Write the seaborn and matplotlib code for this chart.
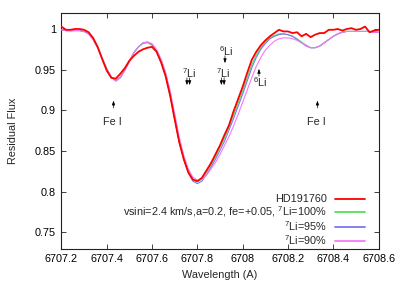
import matplotlib
matplotlib.use("Agg")
import matplotlib.pyplot as plt
import seaborn as sns
from matplotlib.ticker import FuncFormatter

# wavelength grid (A)
wavelength = [
    6707.20, 6707.22, 6707.24, 6707.26, 6707.28, 6707.30, 6707.32, 6707.34, 6707.36, 6707.38,
    6707.40, 6707.42, 6707.44, 6707.46, 6707.48, 6707.50, 6707.52, 6707.54, 6707.56, 6707.58,
    6707.60, 6707.62, 6707.64, 6707.66, 6707.68, 6707.70, 6707.72, 6707.74, 6707.76, 6707.78,
    6707.80, 6707.82, 6707.84, 6707.86, 6707.88, 6707.90, 6707.92, 6707.94, 6707.96, 6707.98,
    6708.00, 6708.02, 6708.04, 6708.06, 6708.08, 6708.10, 6708.12, 6708.14, 6708.16, 6708.18,
    6708.20, 6708.22, 6708.24, 6708.26, 6708.28, 6708.30, 6708.32, 6708.34, 6708.36, 6708.38,
    6708.40, 6708.42, 6708.44, 6708.46, 6708.48, 6708.50, 6708.52, 6708.54, 6708.56, 6708.58,
    6708.60,
]

# observed spectrum
flux_obs = [
    1.003, 0.999, 0.999, 1.000, 1.000, 0.999, 0.996, 0.989, 0.978, 0.963,
    0.949, 0.940, 0.939, 0.945, 0.952, 0.961, 0.967, 0.972, 0.975, 0.977,
    0.978, 0.972, 0.959, 0.942, 0.918, 0.889, 0.861, 0.840, 0.824, 0.815,
    0.813, 0.817, 0.826, 0.835, 0.846, 0.857, 0.870, 0.882, 0.899, 0.914,
    0.929, 0.946, 0.962, 0.972, 0.980, 0.986, 0.991, 0.995, 0.999, 0.997,
    0.997, 0.995, 0.996, 0.991, 0.994, 0.990, 0.993, 0.995, 0.995, 0.999,
    0.999, 1.000, 0.998, 1.000, 1.001, 0.999, 1.000, 1.003, 0.996, 0.998,
    0.999,
]

# synthetic spectra
flux_li100 = [
    0.999, 0.998, 0.998, 0.998, 0.998, 0.997, 0.994, 0.987, 0.977, 0.964,
    0.951, 0.941, 0.937, 0.941, 0.950, 0.961, 0.971, 0.978, 0.982, 0.983,
    0.980, 0.972, 0.959, 0.942, 0.918, 0.889, 0.861, 0.840, 0.824, 0.815,
    0.812, 0.816, 0.824, 0.833, 0.843, 0.855, 0.866, 0.880, 0.894, 0.909,
    0.924, 0.940, 0.956, 0.968, 0.977, 0.984, 0.989, 0.992, 0.994, 0.994,
    0.993, 0.991, 0.988, 0.984, 0.980, 0.977, 0.977, 0.979, 0.983, 0.987,
    0.991, 0.994, 0.996, 0.997, 0.997, 0.997, 0.997, 0.997, 0.997, 0.996,
    0.996,
]
flux_li95 = [
    0.999, 0.998, 0.998, 0.998, 0.998, 0.997, 0.994, 0.987, 0.977, 0.964,
    0.951, 0.941, 0.936, 0.940, 0.949, 0.960, 0.971, 0.978, 0.983, 0.984,
    0.981, 0.973, 0.960, 0.943, 0.919, 0.890, 0.862, 0.840, 0.823, 0.813,
    0.810, 0.813, 0.821, 0.830, 0.840, 0.851, 0.862, 0.876, 0.890, 0.905,
    0.920, 0.936, 0.952, 0.965, 0.975, 0.982, 0.988, 0.991, 0.993, 0.994,
    0.993, 0.991, 0.987, 0.983, 0.979, 0.977, 0.977, 0.979, 0.983, 0.987,
    0.991, 0.994, 0.996, 0.997, 0.997, 0.997, 0.997, 0.997, 0.997, 0.996,
    0.996,
]
flux_li90 = [
    0.999, 0.998, 0.998, 0.998, 0.998, 0.997, 0.994, 0.987, 0.977, 0.964,
    0.951, 0.941, 0.936, 0.940, 0.949, 0.960, 0.971, 0.978, 0.983, 0.984,
    0.982, 0.975, 0.963, 0.947, 0.924, 0.896, 0.867, 0.845, 0.828, 0.818,
    0.814, 0.815, 0.820, 0.828, 0.836, 0.846, 0.857, 0.868, 0.881, 0.895,
    0.910, 0.925, 0.940, 0.954, 0.965, 0.974, 0.980, 0.985, 0.988, 0.989,
    0.989, 0.988, 0.986, 0.983, 0.980, 0.977, 0.977, 0.979, 0.983, 0.987,
    0.991, 0.994, 0.996, 0.997, 0.997, 0.997, 0.997, 0.997, 0.997, 0.996,
    0.996,
]

labels = [
    "HD191760",
    r"vsini=2.4 km/s,a=0.2, fe=+0.05, $^\mathrm{7}$Li=100%",
    r"$^\mathrm{7}$Li=95%",
    r"$^\mathrm{7}$Li=90%",
]
colors = ["#ff0000", "#55e055", "#7878f0", "#f47af4"]

# line identifications
fe_lines = [6707.43, 6708.33]
li7_lines = [6707.754, 6707.766, 6707.906, 6707.918]
li7_label_x = [6707.760, 6707.912]
li6_upper = 6707.922
li6_lower = 6708.072

xticks = [6707.2, 6707.4, 6707.6, 6707.8, 6708.0, 6708.2, 6708.4, 6708.6]
yticks = [0.75, 0.8, 0.85, 0.9, 0.95, 1.0]

sns.set_theme(style="ticks")
plt.rcParams["font.family"] = ["Liberation Sans", "DejaVu Sans"]
plt.rcParams["mathtext.fontset"] = "custom"
plt.rcParams["mathtext.rm"] = "Liberation Sans"
plt.rcParams["mathtext.it"] = "Liberation Sans:italic"

fs = 7.8
fig = plt.figure(figsize=(3.99, 2.85), dpi=100)
ax = fig.add_axes([0.1539, 0.1274, 0.7950, 0.8280])

series = [flux_obs, flux_li100, flux_li95, flux_li90]
widths = [1.3, 0.8, 0.8, 0.8]
zorders = [5, 2, 3, 4]
for flux, lab, col, lw, zo in zip(series, labels, colors, widths, zorders):
    sns.lineplot(x=wavelength, y=flux, ax=ax, color=col, lw=lw, label=lab,
                 zorder=zo, sort=False, estimator=None)

ax.set_xlim(6707.2, 6708.6)
ax.set_ylim(0.73, 1.02)
ax.set_xticks(xticks)
ax.set_yticks(yticks)
ax.xaxis.set_major_formatter(FuncFormatter(lambda v, p: f"{v:g}"))
ax.yaxis.set_major_formatter(FuncFormatter(lambda v, p: f"{v:g}"))
ax.tick_params(direction="in", top=True, right=True, length=3.6, width=0.6,
               labelsize=fs, pad=4, colors="#222222", labelcolor="black")
for s in ax.spines.values():
    s.set_visible(True)
    s.set_linewidth(0.8)
    s.set_color("#222222")

ax.set_xlabel("Wavelength (A)", fontsize=fs)
ax.set_ylabel("Residual Flux", fontsize=fs)
ax.xaxis.set_label_coords(0.5, -0.092)
ax.yaxis.set_label_coords(-0.138, 0.5)

arrow_kw = dict(arrowstyle="-|>,head_length=0.5,head_width=0.18", lw=0.5,
                color="black", shrinkA=0, shrinkB=0, mutation_scale=5)

# Fe I: arrow pointing up, label under it
for x in fe_lines:
    ax.annotate("", xy=(x, 0.912), xytext=(x, 0.903), arrowprops=arrow_kw)
    ax.annotate("Fe I", xy=(x, 0.886), xytext=(-1, 0), textcoords="offset points",
                ha="center", va="center", fontsize=fs)

# 7Li: label above, double arrow pointing down
for x in li7_lines:
    ax.annotate("", xy=(x, 0.931), xytext=(x, 0.940), arrowprops=arrow_kw)
for x in li7_label_x:
    ax.annotate(r"$^\mathrm{7}$Li", xy=(x, 0.946), xytext=(-4.6, 0),
                textcoords="offset points", ha="left", va="center", fontsize=fs)

# 6Li: one label above pointing down, one below pointing up
ax.annotate("", xy=(li6_upper, 0.958), xytext=(li6_upper, 0.967), arrowprops=arrow_kw)
ax.annotate(r"$^\mathrm{6}$Li", xy=(li6_upper, 0.973), xytext=(-4.3, 0),
            textcoords="offset points", ha="left", va="center", fontsize=fs)
ax.annotate("", xy=(li6_lower, 0.951), xytext=(li6_lower, 0.942), arrowprops=arrow_kw)
ax.annotate(r"$^\mathrm{6}$Li", xy=(li6_lower, 0.935), xytext=(-4.3, 0),
            textcoords="offset points", ha="left", va="center", fontsize=fs)

leg = ax.legend(loc="lower right", bbox_to_anchor=(0.957, 0.008), frameon=False,
                fontsize=fs, markerfirst=False, handlelength=2.8, handletextpad=0.75,
                labelspacing=0.0, borderpad=0, borderaxespad=0)
for line in leg.get_lines():
    line.set_linewidth(1.3)

fig.savefig("out.png", dpi=100)
